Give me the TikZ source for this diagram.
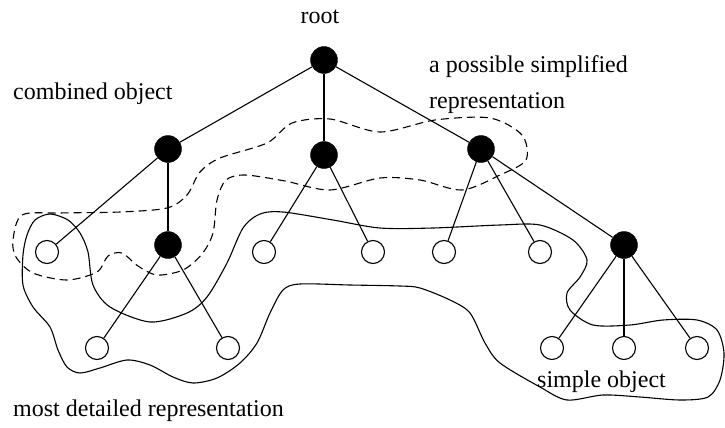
\documentclass[tikz,border=0pt]{standalone}
\usepackage{fontspec}
\setmainfont{Liberation Serif}
\begin{document}
\begin{tikzpicture}[x=1pt,y=-1pt,
  inner/.style={circle,fill=black,draw=black,inner sep=0pt,minimum size=27pt},
  leaf/.style={circle,draw=black,fill=white,inner sep=0pt,minimum size=23pt,line width=1.1pt},
  edge/.style={line width=1.1pt},
  region/.style={line width=1.1pt},
  dregion/.style={line width=1.1pt,dash pattern=on 8pt off 5pt},
  lbl/.style={font=\fontsize{24}{28}\selectfont,inner sep=0pt,anchor=base west}]
\useasboundingbox (0,0) rectangle (725,428);

% regions
\draw[dregion] plot[smooth cycle] coordinates {
 (13,240) (22,215) (60,213) (120,212) (167,208) (187,195) (200,172) (220,158)
 (267,143) (292,123) (330,119) (380,132) (435,120) (490,118) (522,135) (526,160)
 (500,175) (462,190) (420,180) (380,178) (330,190) (285,181) (245,175) (226,180)
 (217,200) (213,233) (202,254) (183,270) (157,275) (138,266) (122,253) (108,256)
 (97,272) (67,280) (33,273) (16,257)};

\draw[region] plot[smooth cycle] coordinates {
 (50,214) (68,220) (80,233) (88,252) (93,285) (110,307) (150,322) (187,313)
 (207,297) (227,263) (243,228) (260,214) (283,212) (333,220) (380,228) (433,228)
 (500,225) (540,225) (573,240) (587,260) (580,277) (567,293) (570,310) (593,325)
 (630,325) (663,320) (697,320) (717,330) (724,353) (720,380) (708,397) (680,400)
 (640,397) (603,395) (567,400) (540,387) (500,363) (485,343) (470,313) (450,300)
 (420,288) (400,286) (350,285) (300,284) (283,290) (270,313) (257,343) (240,363)
 (217,378) (193,383) (173,377) (150,365) (127,360) (100,368) (80,373) (67,367)
 (58,350) (50,327) (33,307) (23,285) (23,255) (27,235) (35,220)};

% nodes
\node[inner] (root) at (324,60) {};
\node[inner] (A) at (168,149) {};
\node[inner] (B) at (324,155) {};
\node[inner] (C) at (481,149) {};
\node[inner] (D) at (168,245) {};
\node[inner] (E) at (624,245) {};
\node[leaf] (L1) at (47,252) {};
\node[leaf] (BL1) at (264,252) {};
\node[leaf] (BL2) at (373,252) {};
\node[leaf] (CL1) at (444,252) {};
\node[leaf] (CL2) at (540,252) {};
\node[leaf] (DL1) at (97,348) {};
\node[leaf] (DL2) at (228,348) {};
\node[leaf] (EL1) at (552,348) {};
\node[leaf] (EL2) at (624,348) {};
\node[leaf] (EL3) at (697,348) {};

% edges
\draw[edge] (root) -- (A);
\draw[edge] (root) -- (B);
\draw[edge] (root) -- (C);
\draw[edge] (A) -- (L1);
\draw[edge] (A) -- (D);
\draw[edge] (D) -- (DL1);
\draw[edge] (D) -- (DL2);
\draw[edge] (B) -- (BL1);
\draw[edge] (B) -- (BL2);
\draw[edge] (C) -- (CL1);
\draw[edge] (C) -- (CL2);
\draw[edge] (C) -- (E);
\draw[edge] (E) -- (EL1);
\draw[edge] (E) -- (EL2);
\draw[edge] (E) -- (EL3);

% labels
\node[lbl,anchor=base] (troot) at (320,24) {root};
\node[lbl] (tcomb) at (13,99) {combined object};
\node[lbl] (tsimp1) at (429,72) {a possible simplified};
\node[lbl] (tsimp2) at (429,108) {representation};
\node[lbl] (tsobj) at (537,387) {simple object};
\node[lbl] (tmost) at (13,416) {most detailed representation};
\end{tikzpicture}
\end{document}
